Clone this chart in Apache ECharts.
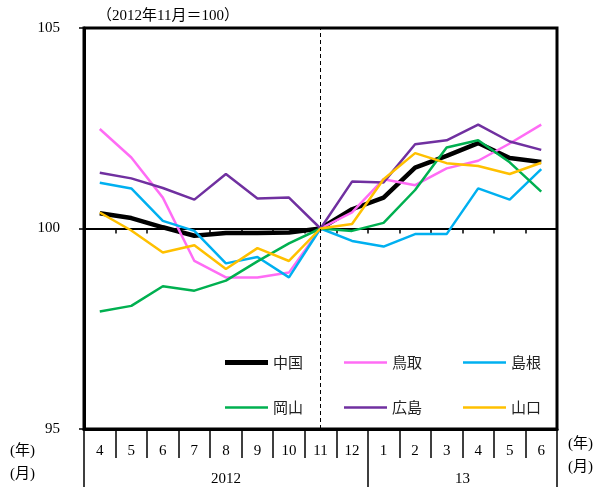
<!DOCTYPE html>
<html>
<head>
<meta charset="utf-8">
<script src="https://cdn.jsdelivr.net/npm/echarts@6/dist/echarts.min.js"></script>
<style>
  html, body { margin: 0; padding: 0; background: #fff; }
  #chart { width: 605px; height: 491px; }
</style>
</head>
<body>
<div id="chart"></div>
<script>
  // 月ラベル（2012年4月〜2013年6月）
  const months = ['4', '5', '6', '7', '8', '9', '10', '11', '12', '1', '2', '3', '4', '5', '6']
  const yearLabels = ['2012', '13']
  const yearCounts = [9, 6]
  const baseMonth = '11'

  const chugoku = [100.38, 100.26, 100.03, 99.82, 99.89, 99.89, 99.9, 100, 100.48, 100.77, 101.52, 101.81, 102.13, 101.76, 101.66]
  const tottori = [102.48, 101.77, 100.77, 99.19, 98.78, 98.78, 98.9, 100, 100.4, 101.23, 101.08, 101.5, 101.69, 102.12, 102.59]
  const shimane = [101.14, 101.0, 100.19, 99.94, 99.13, 99.29, 98.78, 100, 99.69, 99.55, 99.86, 99.86, 101.0, 100.72, 101.48]
  const okayama = [97.93, 98.07, 98.56, 98.45, 98.7, 99.18, 99.63, 100, 99.94, 100.14, 100.96, 102.02, 102.2, 101.65, 100.92]
  const hiroshima = [101.39, 101.25, 101.01, 100.72, 101.36, 100.75, 100.77, 100, 101.17, 101.15, 102.1, 102.2, 102.59, 102.17, 101.96]
  const yamaguchi = [100.4, 99.95, 99.4, 99.58, 98.99, 99.51, 99.19, 100, 100.11, 101.23, 101.88, 101.63, 101.56, 101.36, 101.64]

  const serif = "'Liberation Serif', 'Noto Sans CJK JP', serif"
  const gothic = "'Noto Sans CJK JP', sans-serif"

  // 年の区切りと中央位置
  const yearBounds = [0]
  const yearCenters = []
  yearCounts.forEach(function (n, i) {
    yearCenters.push(yearBounds[i] + n / 2)
    yearBounds.push(yearBounds[i] + n)
  })

  const gridTop = 28
  const gridBottom = 62
  const plotHeight = 491 - gridTop - gridBottom

  const thinIcon = 'path://M0,0H43V2.6H0Z'
  const thickIcon = 'path://M0,0H45V5H0Z'

  function makeSeries(name, data, color, width) {
    return {
      name: name,
      type: 'line',
      data: data,
      symbol: 'none',
      itemStyle: {color: color},
      lineStyle: {color: color, width: width},
      z: width > 3 ? 1 : 2
    }
  }

  const chart = echarts.init(document.getElementById('chart'))

  const series = [
    makeSeries('中国', chugoku, '#000000', 4.5),
    makeSeries('鳥取', tottori, '#ff6cf5', 2.5),
    makeSeries('島根', shimane, '#00b0f0', 2.5),
    makeSeries('岡山', okayama, '#00b050', 2.5),
    makeSeries('広島', hiroshima, '#7030a0', 2.5),
    makeSeries('山口', yamaguchi, '#ffc000', 2.5)
  ]
  // 基準月の点線
  series[0].markLine = {
    silent: true,
    symbol: 'none',
    label: {show: false},
    lineStyle: {color: '#000', width: 1, type: [4, 3]},
    data: [{xAxis: months.indexOf(baseMonth)}]
  }

  const legendCommon = {
    itemWidth: 43,
    itemHeight: 14,
    itemGap: 41,
    padding: 0,
    selectedMode: false,
    textStyle: {fontSize: 15, color: '#222', fontFamily: gothic}
  }

  chart.setOption({
    animation: false,
    backgroundColor: '#fff',
    title: {
      text: '（2012年11月＝100）',
      left: 92,
      top: 4,
      textStyle: {fontSize: 15, fontWeight: 'normal', color: '#000', fontFamily: serif}
    },
    grid: {
      left: 84,
      right: 48,
      top: gridTop,
      bottom: gridBottom,
      show: true,
      borderColor: '#000',
      borderWidth: 3
    },
    legend: [
      Object.assign({}, legendCommon, {
        left: 225,
        top: 355,
        data: [
          {name: '中国', icon: thickIcon},
          {name: '鳥取', icon: thinIcon},
          {name: '島根', icon: thinIcon}
        ]
      }),
      Object.assign({}, legendCommon, {
        left: 225,
        top: 400,
        data: [
          {name: '岡山', icon: thinIcon},
          {name: '広島', icon: thinIcon},
          {name: '山口', icon: thinIcon}
        ]
      })
    ],
    xAxis: [
      {
        type: 'category',
        data: months,
        position: 'bottom',
        boundaryGap: true,
        axisLine: {show: true, lineStyle: {color: '#000', width: 3}},
        axisTick: {show: true, interval: 0, length: 29, lineStyle: {color: '#000', width: 1.5}},
        axisLabel: {interval: 0, margin: 15, fontSize: 15, color: '#000', fontFamily: serif},
        splitLine: {show: false}
      },
      {
        // 年の行
        type: 'value',
        min: 0,
        max: months.length,
        position: 'bottom',
        offset: 29,
        axisLine: {show: false},
        axisTick: {show: true, length: 29, customValues: yearBounds, lineStyle: {color: '#000', width: 1.5}},
        axisLabel: {
          margin: 14,
          fontSize: 15,
          color: '#000',
          fontFamily: serif,
          customValues: yearCenters,
          formatter: function (v) {
            return yearLabels[yearCenters.indexOf(v)]
          }
        },
        splitLine: {show: false}
      },
      {
        // 100の横線
        type: 'category',
        data: months,
        position: 'bottom',
        offset: -plotHeight / 2,
        boundaryGap: true,
        axisLine: {show: true, lineStyle: {color: '#000', width: 2}},
        axisTick: {show: true, interval: 0, length: 5, lineStyle: {color: '#000', width: 1.5}},
        axisLabel: {show: false},
        splitLine: {show: false}
      }
    ],
    yAxis: {
      type: 'value',
      min: 95,
      max: 105,
      interval: 5,
      axisLine: {show: true, lineStyle: {color: '#000', width: 3}},
      axisTick: {show: true, length: 5, lineStyle: {color: '#000', width: 1.5}},
      axisLabel: {margin: 24, fontSize: 15, color: '#000', fontFamily: serif},
      splitLine: {show: false}
    },
    graphic: [
      {type: 'text', left: 10, top: 444, style: {text: '(年)', font: '15px ' + serif, fill: '#000'}},
      {type: 'text', left: 10, top: 467, style: {text: '(月)', font: '15px ' + serif, fill: '#000'}},
      {type: 'text', left: 568, top: 437, style: {text: '(年)', font: '15px ' + serif, fill: '#000'}},
      {type: 'text', left: 568, top: 460, style: {text: '(月)', font: '15px ' + serif, fill: '#000'}}
    ],
    series: series
  })
</script>
</body>
</html>
